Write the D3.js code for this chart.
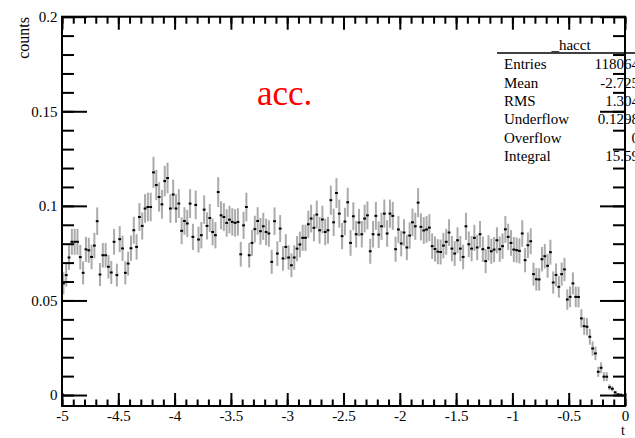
<!DOCTYPE html>
<html>
<head>
<meta charset="utf-8">
<script src="https://cdn.jsdelivr.net/npm/d3@7"></script>
<style>
  body { margin: 0; background: #fff; }
  text { font-family: "Liberation Serif", "Times New Roman", serif; }
</style>
</head>
<body>
<svg width="635" height="438"></svg>
<script>
// histogram _hacct: 200 bins from -5 to 0
var xMin = -5, xMax = 0;
var counts = [
  0.0590, 0.0634, 0.0727, 0.0810, 0.0810, 0.0810, 0.0729, 0.0646, 0.0770, 0.0765,
  0.0730, 0.0790, 0.0919, 0.0637, 0.0739, 0.0739, 0.0678, 0.0648, 0.0810, 0.0634,
  0.0824, 0.0775, 0.0646, 0.0695, 0.0776, 0.0871, 0.0783, 0.0941, 0.0894, 0.0986,
  0.0994, 0.0994, 0.1177, 0.1110, 0.1047, 0.1008, 0.1131, 0.1147, 0.0986, 0.1060,
  0.0986, 0.1012, 0.0868, 0.0920, 0.0907, 0.1012, 0.0836, 0.1005, 0.0822, 0.0845,
  0.0980, 0.0894, 0.0936, 0.0862, 0.0845, 0.1073, 0.0950, 0.0941, 0.0910, 0.0927,
  0.0915, 0.0910, 0.0915, 0.0744, 0.0897, 0.0994, 0.0739, 0.0804, 0.0877, 0.0920,
  0.0866, 0.0892, 0.0862, 0.0854, 0.0704, 0.0919, 0.0748, 0.0880, 0.0722, 0.0783,
  0.0727, 0.0686, 0.0727, 0.0774, 0.0796, 0.0831, 0.0831, 0.0903, 0.0933, 0.0884,
  0.0954, 0.0871, 0.0928, 0.0862, 0.0871, 0.1030, 0.0913, 0.1068, 0.0959, 0.0840,
  0.0917, 0.1019, 0.0804, 0.0945, 0.0850, 0.0912, 0.0850, 0.0933, 0.0950, 0.0760,
  0.0850, 0.0947, 0.0848, 0.0892, 0.0959, 0.0854, 0.0959, 0.0947, 0.0771, 0.0875,
  0.0801, 0.0859, 0.0780, 0.0843, 0.0913, 0.0892, 0.1017, 0.0889, 0.0870, 0.0875,
  0.0885, 0.0787, 0.0772, 0.0758, 0.0756, 0.0790, 0.0810, 0.0859, 0.0774, 0.0748,
  0.0818, 0.0774, 0.0730, 0.0892, 0.0797, 0.0774, 0.0831, 0.0780, 0.0850, 0.0771,
  0.0708, 0.0778, 0.0760, 0.0769, 0.0818, 0.0771, 0.0787, 0.0876, 0.0836, 0.0804,
  0.0769, 0.0766, 0.0762, 0.0854, 0.0713, 0.0792, 0.0813, 0.0639, 0.0612, 0.0611,
  0.0718, 0.0734, 0.0683, 0.0755, 0.0595, 0.0635, 0.0572, 0.0639, 0.0664, 0.0505,
  0.0519, 0.0590, 0.0519, 0.0518, 0.0405, 0.0364, 0.0361, 0.0308, 0.0246, 0.0220,
  0.0123, 0.0144, 0.0097, 0.0097, 0.0041, 0.0033, 0.0014, 0.0004, 0.0002, 0.0000
];

var xTicks = [-5, -4.5, -4, -3.5, -3, -2.5, -2, -1.5, -1, -0.5, 0];
var xTickLabels = ["-5", "-4.5", "-4", "-3.5", "-3", "-2.5", "-2", "-1.5", "-1", "-0.5", "0"];
var yTicks = [0, 0.05, 0.1, 0.15, 0.2];
var yTickLabels = ["0", "0.05", "0.1", "0.15", "0.2"];

var statNames = ["Entries", "Mean", "RMS", "Underflow", "Overflow", "Integral"];
var statValues = ["118064", "-2.725", "1.304", "0.1298", "0", "15.59"];

var svg = d3.select("svg");

var x = d3.scaleLinear().domain([xMin, xMax]).range([62, 625]);
var y = d3.scaleLinear().domain([-0.0058, 0.2]).range([406, 16.7]);

var binW = (xMax - xMin) / counts.length;
var bins = counts.map(function(c, i) {
    // error from bin content (sum of weights squared), constant weight
    return { x: xMin + (i + 0.5) * binW, v: c, e: 0.024 * Math.sqrt(c) };
}).filter(function(d) { return d.v > 0; });

var xMinor = d3.range(0, 51).map(function(i) { return -5 + i * 0.1; });
var yMinor = d3.range(0, 21).map(function(i) { return i * 0.01; });

// error bars
svg.append("g").selectAll("line")
    .data(bins)
    .enter()
    .append("line")
    .attr("x1", function(d) { return x(d.x); })
    .attr("x2", function(d) { return x(d.x); })
    .attr("y1", function(d) { return y(d.v - d.e); })
    .attr("y2", function(d) { return y(d.v + d.e); })
    .attr("stroke", "#ababab")
    .attr("stroke-width", 2);

svg.append("g").selectAll("rect")
    .data(bins)
    .enter()
    .append("rect")
    .attr("x", function(d) { return x(d.x) - 1.4; })
    .attr("y", function(d) { return y(d.v) - 1; })
    .attr("width", 2.8)
    .attr("height", 2)
    .attr("fill", "#000");

// axes, ticks inward like ROOT
function styleAxis(g) {
    g.select(".domain").remove();
    g.selectAll("line").attr("stroke", "#000").attr("stroke-width", 2);
    g.selectAll("text").attr("font-size", "15px").attr("fill", "#000");
}

svg.append("g").attr("transform", "translate(62,0)")
    .call(d3.axisLeft(y).tickValues(yMinor).tickSize(-12).tickFormat(""))
    .call(styleAxis);
svg.append("g").attr("transform", "translate(62,0)")
    .call(d3.axisLeft(y).tickValues(yTicks).tickSize(-25).tickPadding(4.5)
        .tickFormat(function(d, i) { return yTickLabels[i]; }))
    .call(styleAxis);
svg.append("g").attr("transform", "translate(625,0)")
    .call(d3.axisRight(y).tickValues(yMinor).tickSize(-12).tickFormat(""))
    .call(styleAxis);
svg.append("g").attr("transform", "translate(625,0)")
    .call(d3.axisRight(y).tickValues(yTicks).tickSize(-25).tickFormat(""))
    .call(styleAxis);

svg.append("g").attr("transform", "translate(0,406)")
    .call(d3.axisBottom(x).tickValues(xMinor).tickSize(-6.5).tickFormat(""))
    .call(styleAxis);
svg.append("g").attr("transform", "translate(0,406)")
    .call(d3.axisBottom(x).tickValues(xTicks).tickSize(-13).tickPadding(4)
        .tickFormat(function(d, i) { return xTickLabels[i]; }))
    .call(styleAxis);
svg.append("g").attr("transform", "translate(0,16.7)")
    .call(d3.axisTop(x).tickValues(xMinor).tickSize(-7).tickFormat(""))
    .call(styleAxis);
svg.append("g").attr("transform", "translate(0,16.7)")
    .call(d3.axisTop(x).tickValues(xTicks).tickSize(-13).tickFormat(""))
    .call(styleAxis);

svg.append("rect")
    .attr("x", 62).attr("y", 16.7)
    .attr("width", 625 - 62).attr("height", 406 - 16.7)
    .attr("fill", "none").attr("stroke", "#000").attr("stroke-width", 2);

// titles
svg.append("text")
    .attr("transform", "translate(28.5,17) rotate(-90)")
    .attr("text-anchor", "end")
    .attr("font-size", "16px")
    .text("counts");

svg.append("text")
    .attr("x", 625).attr("y", 434.5)
    .attr("text-anchor", "end")
    .attr("font-size", "14px")
    .text("t");

svg.append("text")
    .attr("x", 257).attr("y", 105)
    .attr("font-size", "35px")
    .attr("fill", "#ff0000")
    .text("acc.");

// stats box (runs past the right edge of the canvas, as in the original)
svg.append("text")
    .attr("x", 571).attr("y", 49.5)
    .attr("text-anchor", "middle")
    .attr("font-size", "15px")
    .text("_hacct");
svg.append("line")
    .attr("x1", 497).attr("x2", 645)
    .attr("y1", 53).attr("y2", 53)
    .attr("stroke", "#000").attr("stroke-width", 1.5);

var rows = svg.append("g").selectAll("g")
    .data(statNames)
    .enter()
    .append("g")
    .attr("transform", function(d, i) { return "translate(0," + (69.2 + i * 18.4) + ")"; });
rows.append("text").attr("x", 504).attr("font-size", "15px")
    .text(function(d) { return d; });
rows.append("text").attr("x", 639).attr("text-anchor", "end").attr("font-size", "15px")
    .text(function(d, i) { return statValues[i]; });
</script>
</body>
</html>
